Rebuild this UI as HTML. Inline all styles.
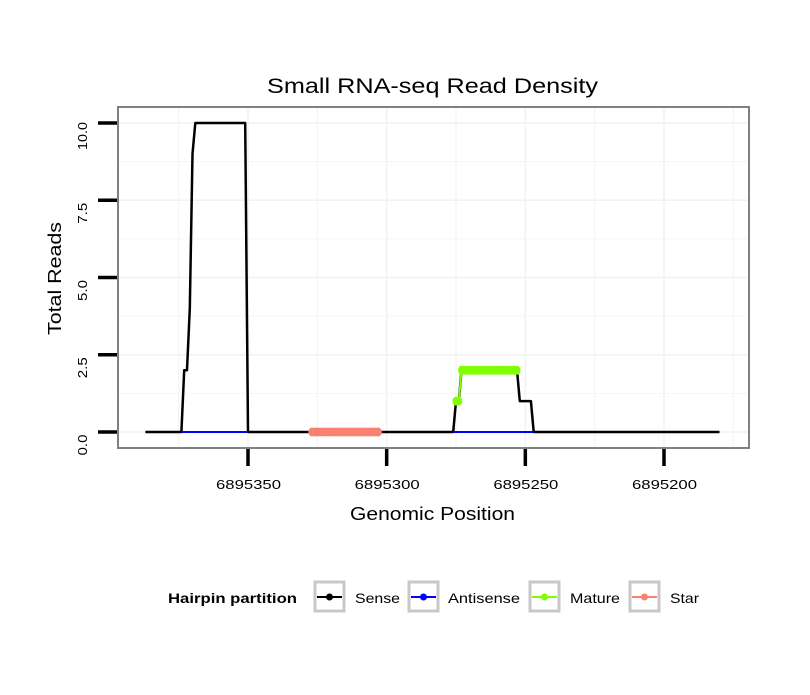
<!DOCTYPE html>
<html><head><meta charset="utf-8"><style>
body{margin:0;background:#fff;}
svg text{font-family:"Liberation Sans",sans-serif;}
</style></head><body>
<svg id="chart" width="810" height="690" xmlns="http://www.w3.org/2000/svg">
<rect width="810" height="690" fill="#fff"/>
<text x="267" y="93" font-size="21" textLength="331" lengthAdjust="spacingAndGlyphs">Small RNA-seq Read Density</text>
<g id="grid"></g>
<g id="series"></g>
<rect x="118" y="107" width="631" height="341" fill="none" stroke="#808080" stroke-width="2"/>
<g id="axes"></g>
<text x="350" y="520" font-size="18" textLength="165" lengthAdjust="spacingAndGlyphs">Genomic Position</text>
<text transform="translate(61,335) rotate(-90)" font-size="18" textLength="113" lengthAdjust="spacingAndGlyphs">Total Reads</text>
<g>
<text x="168" y="603" font-size="14" font-weight="bold" textLength="129" lengthAdjust="spacingAndGlyphs">Hairpin partition</text>
<g>
<rect x="315" y="582" width="29" height="29" fill="#fff" stroke="#c8c8c8" stroke-width="3"/>
<line x1="317" y1="597" x2="342" y2="597" stroke="#000" stroke-width="2"/><circle cx="329.5" cy="597" r="3.5" fill="#000"/>
<text x="355" y="603" font-size="14" textLength="45" lengthAdjust="spacingAndGlyphs">Sense</text></g>
<g>
<rect x="409" y="582" width="29" height="29" fill="#fff" stroke="#c8c8c8" stroke-width="3"/>
<line x1="411" y1="597" x2="436" y2="597" stroke="#0000ff" stroke-width="2"/><circle cx="423.5" cy="597" r="3.5" fill="#0000ff"/>
<text x="448" y="603" font-size="14" textLength="72" lengthAdjust="spacingAndGlyphs">Antisense</text></g>
<g>
<rect x="530" y="582" width="29" height="29" fill="#fff" stroke="#c8c8c8" stroke-width="3"/>
<line x1="532" y1="597" x2="557" y2="597" stroke="#7fff00" stroke-width="2"/><circle cx="544.5" cy="597" r="3.5" fill="#7fff00"/>
<text x="570" y="603" font-size="14" textLength="50" lengthAdjust="spacingAndGlyphs">Mature</text></g>
<g>
<rect x="630" y="582" width="29" height="29" fill="#fff" stroke="#c8c8c8" stroke-width="3"/>
<line x1="632" y1="597" x2="657" y2="597" stroke="#fa8072" stroke-width="2"/><circle cx="644.5" cy="597" r="3.5" fill="#fa8072"/>
<text x="670" y="603" font-size="14" textLength="29" lengthAdjust="spacingAndGlyphs">Star</text></g>
</g>
</svg>
<script>
const xTicks=[6895350,6895300,6895250,6895200];
const xTickLabels=["6895350","6895300","6895250","6895200"];
const yTicks=[0,2.5,5,7.5,10];
const yTickLabels=["0.0","2.5","5.0","7.5","10.0"];
const senseStart=6895387, senseEnd=6895180;
const senseNonZeroPos=[6895373,6895372,6895371,6895370,6895369,6895368,6895367,6895366,6895365,6895364,6895363,6895362,6895361,6895360,6895359,6895358,6895357,6895356,6895355,6895354,6895353,6895352,6895351,
6895275,6895274,6895273,6895272,6895271,6895270,6895269,6895268,6895267,6895266,6895265,6895264,6895263,6895262,6895261,6895260,6895259,6895258,6895257,6895256,6895255,6895254,6895253,6895252,6895251,6895250,6895249,6895248];
const senseNonZeroVal=[2,2,4,9,10,10,10,10,10,10,10,10,10,10,10,10,10,10,10,10,10,10,10,
1,1,2,2,2,2,2,2,2,2,2,2,2,2,2,2,2,2,2,2,2,2,2,1,1,1,1,1];
const antisenseRanges=[[6895374,6895350],[6895276,6895247]];
const maturePos=[6895275,6895274,6895273,6895272,6895271,6895270,6895269,6895268,6895267,6895266,6895265,6895264,6895263,6895262,6895261,6895260,6895259,6895258,6895257,6895256,6895255,6895254,6895253];
const matureVal=[1,1,2,2,2,2,2,2,2,2,2,2,2,2,2,2,2,2,2,2,2,2,2];
const starPos=[6895327,6895326,6895325,6895324,6895323,6895322,6895321,6895320,6895319,6895318,6895317,6895316,6895315,6895314,6895313,6895312,6895311,6895310,6895309,6895308,6895307,6895306,6895305,6895304,6895303];
const starVal=[0,0,0,0,0,0,0,0,0,0,0,0,0,0,0,0,0,0,0,0,0,0,0,0,0];

const NS="http://www.w3.org/2000/svg";
const X=p=>248+(6895350-p)*(416/150);
const Y=v=>432-v*30.9;
function mk(t,a,parent){const e=document.createElementNS(NS,t);for(const k in a)e.setAttribute(k,a[k]);parent.appendChild(e);return e;}
const grid=document.getElementById('grid'),series=document.getElementById('series'),axes=document.getElementById('axes');
for(let i=0;i<yTicks.length;i++){
 const l=mk('line',{x1:118,x2:749,y1:Y(yTicks[i]),y2:Y(yTicks[i]),stroke:'#f2f2f2','stroke-width':1.5},grid);
 
 
 if(i<yTicks.length-1){const m=(yTicks[i]+yTicks[i+1])/2;
  const l2=mk('line',{x1:118,x2:749,y1:Y(m),y2:Y(m),stroke:'#f6f6f6','stroke-width':1},grid);
  
  }
}
const step=xTicks[0]-xTicks[1];
const xs=[xTicks[0]+step/2].concat(xTicks).concat(xTicks.map(t=>t-step/2));
xs.forEach(p=>{const x=X(p);if(x<118||x>749)return;
 const l=mk('line',{x1:x,x2:x,y1:107,y2:448,stroke:'#f2f2f2','stroke-width':xTicks.includes(p)?1.5:1},grid);
 
 });
const pts=[];
for(let p=senseStart;p>=senseEnd;p--){const i=senseNonZeroPos.indexOf(p);pts.push(X(p).toFixed(1)+','+Y(i<0?0:senseNonZeroVal[i]).toFixed(1));}
const sl=mk('polyline',{points:pts.join(' '),fill:'none',stroke:'#000','stroke-width':2.5,'stroke-linejoin':'round'},series);


antisenseRanges.forEach(r=>{
 const a=mk('line',{x1:X(r[0]),x2:X(r[1]),y1:Y(0),y2:Y(0),stroke:'#0000ff','stroke-width':2},series);
 
 });
function dots(pos,val,color,name){
 const line=mk('polyline',{points:pos.map((p,i)=>X(p)+','+Y(val[i])).join(' '),fill:'none',stroke:color,'stroke-width':2},series);
 
 
 pos.forEach((p,i)=>{const c=mk('ellipse',{cx:X(p),cy:Y(val[i]),rx:3.5,ry:4.5,fill:color},series);
  
  });
}
dots(starPos,starVal,'#fa8072','star');
dots(maturePos,matureVal,'#7fff00','mature');
yTicks.forEach((v,i)=>{
 const t=mk('line',{x1:98,x2:117,y1:Y(v),y2:Y(v),stroke:'#000','stroke-width':3.5},axes);
 
 
 const len=yTickLabels[i].length>3?28:21;
 const tx=mk('text',{transform:`translate(87,${Y(v)+13}) rotate(-90)`,'font-size':13,'text-anchor':'middle',textLength:len,lengthAdjust:'spacingAndGlyphs'},axes);
 tx.textContent=yTickLabels[i];
 
 
});
xTicks.forEach((p,i)=>{
 const t=mk('line',{x1:X(p),x2:X(p),y1:449,y2:466,stroke:'#000','stroke-width':3.5},axes);
 
 
 const tx=mk('text',{x:X(p)-32,y:489,'font-size':13,textLength:65,lengthAdjust:'spacingAndGlyphs'},axes);
 tx.textContent=xTickLabels[i];
 
 
});
</script>
</body></html>
